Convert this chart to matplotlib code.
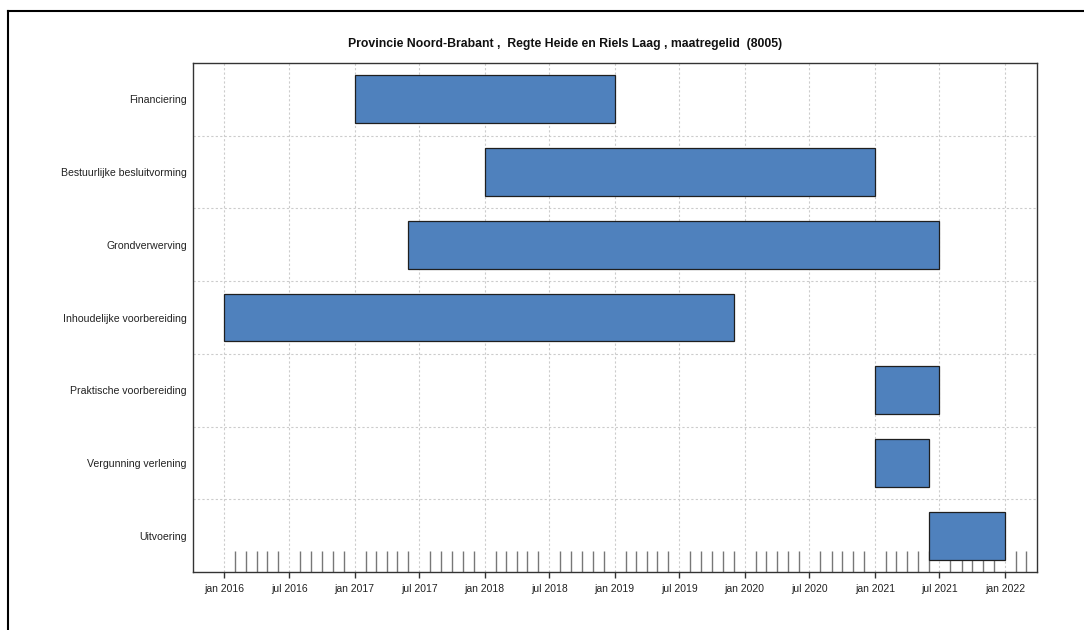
import matplotlib
matplotlib.use("Agg")
import matplotlib.pyplot as plt
import matplotlib.dates as mdates
import matplotlib.ticker as mticker
from matplotlib.lines import Line2D
import pandas as pd

plt.rcParams['font.family'] = ['Liberation Sans', 'DejaVu Sans']

# activities, top to bottom
activities = [
    "Financiering",
    "Bestuurlijke besluitvorming",
    "Grondverwerving",
    "Inhoudelijke voorbereiding",
    "Praktische voorbereiding",
    "Vergunning verlening",
    "Uitvoering",
]
start_dates = ["2017-01-01", "2018-01-01", "2017-06-01", "2016-01-01",
               "2021-01-01", "2021-01-01", "2021-06-01"]
end_dates = ["2019-01-01", "2021-01-01", "2021-07-01", "2019-12-01",
             "2021-07-01", "2021-06-01", "2022-01-01"]

title = "Provincie Noord-Brabant ,  Regte Heide en Riels Laag , maatregelid  (8005)"

starts = pd.to_datetime(start_dates)
ends = pd.to_datetime(end_dates)

fig = plt.figure(figsize=(10.84, 6.3), dpi=100)
ax = fig.add_axes([193 / 1084, 1 - 572 / 630, (1037 - 193) / 1084, (572 - 63) / 630])

s_num = mdates.date2num(starts)
e_num = mdates.date2num(ends)
ypos = list(range(len(activities)))
ax.barh(ypos, e_num - s_num, left=s_num, height=0.66,
        color="#4f81bd", edgecolor="#1f1f1f", linewidth=0.9, zorder=3)

ax.set_ylim(len(activities) - 0.5, -0.5)
ax.set_yticks(ypos)
ax.set_yticklabels(activities, fontsize=7.6, color="#222222")
ax.set_yticks([y + 0.5 for y in ypos[:-1]], minor=True)
ax.tick_params(axis="y", which="both", length=0, pad=4.5)

ax.set_xlim(mdates.date2num(pd.Timestamp("2015-10-05")),
            mdates.date2num(pd.Timestamp("2022-04-01")))

# major ticks every half year, minor (monthly) ticks from jan 2016 on
major_days = pd.date_range("2016-01-01", "2022-01-01", freq="6MS")
minor_days = pd.date_range("2016-01-01", "2022-03-01", freq="MS")
minor_days = [d for d in minor_days if d.month not in (1, 7)]
ax.xaxis.set_major_locator(mticker.FixedLocator(mdates.date2num(major_days)))
ax.xaxis.set_minor_locator(mticker.FixedLocator(mdates.date2num(minor_days)))
ax.xaxis.set_major_formatter(
    mticker.FuncFormatter(
        lambda v, p: ("jan " if mdates.num2date(v).month == 1 else "jul ") + str(mdates.num2date(v).year)))
ax.tick_params(axis="x", which="major", direction="out", length=4, width=1,
               color="#333333", labelsize=7.5, labelcolor="#222222", pad=5)
ax.tick_params(axis="x", which="minor", direction="in", length=15, width=1,
               color="#777777")

ax.grid(True, which="major", axis="x", linestyle=(0, (2, 2)), color="#cccccc", linewidth=0.8)
ax.grid(True, which="minor", axis="y", linestyle=(0, (2, 2)), color="#cccccc", linewidth=0.8)
ax.set_axisbelow(True)

for sp in ax.spines.values():
    sp.set_color("#333333")
    sp.set_linewidth(1)

fig.text(565 / 1084, 1 - 44 / 630, title, ha="center", va="center",
         fontsize=8.8, fontweight="bold", color="#111111")

# outer frame lines
fig.add_artist(Line2D([8 / 1084, 1.0], [1 - 11 / 630, 1 - 11 / 630],
                      transform=fig.transFigure, color="black", linewidth=1.5))
fig.add_artist(Line2D([8 / 1084, 8 / 1084], [1 - 11 / 630, 0.0],
                      transform=fig.transFigure, color="black", linewidth=1.5))

fig.savefig("out.png", dpi=100)
